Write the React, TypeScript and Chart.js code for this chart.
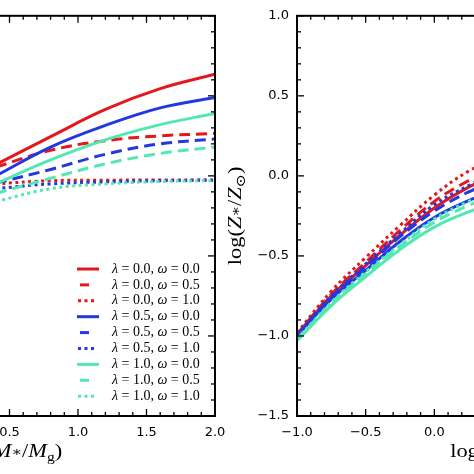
import React, { useEffect, useRef } from "react";
import { Chart, registerables } from "chart.js";
Chart.register(...registerables);

// ---------- data ----------
const seriesLabels = [
  ["0.0", "0.0"], ["0.0", "0.5"], ["0.0", "1.0"],
  ["0.5", "0.0"], ["0.5", "0.5"], ["0.5", "1.0"],
  ["1.0", "0.0"], ["1.0", "0.5"], ["1.0", "1.0"],
];
const seriesColors = [
  "#e3171c", "#e3171c", "#e3171c",
  "#2338e0", "#2338e0", "#2338e0",
  "#52e8b2", "#52e8b2", "#52e8b2",
];
const seriesStyles = ["solid", "dashed", "dotted", "solid", "dashed", "dotted", "solid", "dashed", "dotted"];

const xRange = [-1.0, 2.0];
const yRange = [-1.5, 1.0];

// left panel: log(Z*/Zsun) vs log(M*/Mg)
const leftX = [0.4, 0.8, 1.2, 1.6, 2.0];
const leftL00W00 = [0.07, 0.245, 0.415, 0.545, 0.635];
const leftL00W05 = [0.055, 0.16, 0.22, 0.25, 0.265];
const leftL00W10 = [-0.05, -0.03, -0.027, -0.026, -0.025];
const leftL05W00 = [0.0, 0.18, 0.315, 0.425, 0.49];
const leftL05W05 = [-0.045, 0.04, 0.135, 0.2, 0.23];
const leftL05W10 = [-0.08, -0.05, -0.038, -0.03, -0.027];
const leftL10W00 = [-0.05, 0.1, 0.225, 0.32, 0.39];
const leftL10W05 = [-0.11, -0.015, 0.075, 0.14, 0.18];
const leftL10W10 = [-0.16, -0.08, -0.05, -0.035, -0.03];

// right panel
const rightX = [-1.0, -0.75, -0.5, -0.25, 0.0, 0.25, 0.5];
const rightL00W00 = [-0.99, -0.75, -0.56, -0.37, -0.2, -0.07, 0.03];
const rightL00W05 = [-0.99, -0.74, -0.54, -0.34, -0.16, -0.03, 0.07];
const rightL00W10 = [-0.98, -0.72, -0.51, -0.31, -0.12, 0.03, 0.13];
const rightL05W00 = [-1.0, -0.77, -0.59, -0.41, -0.26, -0.155, -0.07];
const rightL05W05 = [-1.0, -0.76, -0.57, -0.38, -0.22, -0.1, -0.01];
const rightL05W10 = [-0.99, -0.75, -0.55, -0.36, -0.18, -0.06, 0.04];
const rightL10W00 = [-1.03, -0.81, -0.63, -0.46, -0.32, -0.225, -0.15];
const rightL10W05 = [-1.02, -0.8, -0.61, -0.44, -0.29, -0.185, -0.1];
const rightL10W10 = [-1.02, -0.79, -0.6, -0.43, -0.27, -0.16, -0.07];

const leftSeries = [leftL00W00, leftL00W05, leftL00W10, leftL05W00, leftL05W05, leftL05W10, leftL10W00, leftL10W05, leftL10W10];
const rightSeries = [rightL00W00, rightL00W05, rightL00W10, rightL05W00, rightL05W05, rightL05W10, rightL10W00, rightL10W05, rightL10W10];

// ---------- styling helpers ----------
const SERIF = '"Liberation Serif", "DejaVu Serif", serif';
const SANS = '"DejaVu Sans", sans-serif';
const DASHES: Record<string, number[]> = { solid: [], dashed: [11, 6], dotted: [3, 3.5] };

type Seg = { t: string; it?: boolean; sub?: boolean; dy?: number };
const segFont = (s: Seg, size: number) => `${s.it ? "italic " : ""}${s.sub ? size * 0.7 : size}px ${SERIF}`;
function mathWidth(ctx: CanvasRenderingContext2D, segs: Seg[], size: number) {
  let w = 0;
  for (const s of segs) { ctx.font = segFont(s, size); w += ctx.measureText(s.t).width; }
  return w;
}
function drawMath(ctx: CanvasRenderingContext2D, segs: Seg[], size: number, x: number, y: number, sx = 1) {
  ctx.save();
  ctx.translate(x, y);
  ctx.scale(sx, 1);
  let cx = 0;
  for (const s of segs) {
    ctx.font = segFont(s, size);
    const dy = s.dy !== undefined ? s.dy : s.sub ? size * 0.22 : 0;
    ctx.fillText(s.t, cx, dy);
    cx += ctx.measureText(s.t).width;
  }
  ctx.restore();
}

const xTitleSegs: Seg[] = [
  { t: "log(" }, { t: "M", it: true }, { t: "∗", sub: true, dy: -1 }, { t: "/" },
  { t: "M", it: true }, { t: "g", sub: true }, { t: ")" },
];
const yTitleSegs: Seg[] = [
  { t: "log(" }, { t: "Z", it: true }, { t: "∗", sub: true, dy: -1 }, { t: "/" },
  { t: "Z", it: true }, { t: "⊙", sub: true }, { t: ")" },
];
const TITLE_SIZE = 19;
const TITLE_STRETCH = 1.18;

function fmtTick(v: number) {
  const n = Math.round(v * 10) / 10;
  const s = Math.abs(n).toFixed(1);
  return n < 0 ? "\u2212" + s : s;
}

function makeDecor(showLegend: boolean) {
  return {
    id: "decor",
    afterDraw(chart: any) {
      const ctx: CanvasRenderingContext2D = chart.ctx;
      const a = chart.chartArea;
      const xs = chart.scales.x;
      const ys = chart.scales.y;
      ctx.save();
      ctx.strokeStyle = "#000";
      ctx.fillStyle = "#000";
      ctx.lineWidth = 1.3;
      ctx.setLineDash([]);
      const seg = (x1: number, y1: number, x2: number, y2: number) => {
        ctx.beginPath(); ctx.moveTo(x1, y1); ctx.lineTo(x2, y2); ctx.stroke();
      };
      for (let k = Math.round(xs.min * 10); k <= Math.round(xs.max * 10); k++) {
        const px = xs.getPixelForValue(k / 10);
        const len = k % 5 === 0 ? 7 : 4;
        seg(px, a.top, px, a.top + len);
        seg(px, a.bottom, px, a.bottom - len);
      }
      for (let k = Math.round(ys.min * 10); k <= Math.round(ys.max * 10); k++) {
        const py = ys.getPixelForValue(k / 10);
        const len = k % 5 === 0 ? 7 : 4;
        seg(a.left, py, a.left + len, py);
        seg(a.right, py, a.right - len, py);
      }
      ctx.lineWidth = 2;
      ctx.strokeRect(a.left, a.top, a.right - a.left, a.bottom - a.top);

      // axis titles
      ctx.textAlign = "left";
      ctx.textBaseline = "alphabetic";
      const wx = mathWidth(ctx, xTitleSegs, TITLE_SIZE) * TITLE_STRETCH;
      drawMath(ctx, xTitleSegs, TITLE_SIZE, (a.left + a.right) / 2 - wx / 2, a.bottom + 41, TITLE_STRETCH);
      const wy = mathWidth(ctx, yTitleSegs, TITLE_SIZE) * TITLE_STRETCH;
      ctx.save();
      ctx.translate(a.left - 56, (a.top + a.bottom) / 2);
      ctx.rotate(-Math.PI / 2);
      drawMath(ctx, yTitleSegs, TITLE_SIZE, -wy / 2, 0, TITLE_STRETCH);
      ctx.restore();

      if (showLegend) {
        const ds = chart.data.datasets;
        const x0 = a.right - 138;
        const tx = a.right - 103;
        ctx.textBaseline = "middle";
        for (let i = 0; i < ds.length; i++) {
          const y = a.bottom - 147 + i * 15.9;
          const st = seriesStyles[i];
          ctx.strokeStyle = ds[i].borderColor;
          ctx.lineWidth = 3;
          ctx.lineCap = "butt";
          if (st === "solid") { ctx.setLineDash([]); seg(x0, y, x0 + 22, y); }
          else if (st === "dashed") { ctx.setLineDash([]); seg(x0 + 3, y, x0 + 12, y); }
          else { ctx.setLineDash([3, 3.5]); seg(x0 + 1, y, x0 + 19, y); }
          ctx.setLineDash([]);
          ctx.fillStyle = "#000";
          const [l, w] = seriesLabels[i];
          drawMath(ctx, [{ t: "λ", it: true }, { t: " = " + l + ", " }, { t: "ω", it: true }, { t: " = " + w }], 14, tx, y);
        }
      }
      ctx.restore();
    },
  };
}

function Panel(props: { xs: number[]; series: number[][]; left: number; areaWidth: number; legend: boolean }) {
  const ref = useRef<HTMLCanvasElement>(null);
  const width = 70 + props.areaWidth + 30;
  useEffect(() => {
    const datasets = props.series.map((arr, i) => ({
      label: `λ = ${seriesLabels[i][0]}, ω = ${seriesLabels[i][1]}`,
      data: props.xs.map((x, j) => ({ x, y: arr[j] })),
      borderColor: seriesColors[i],
      backgroundColor: seriesColors[i],
      borderDash: DASHES[seriesStyles[i]],
      borderWidth: 3,
      borderCapStyle: "butt" as const,
      pointRadius: 0,
      fill: false,
      tension: 0.4,
      order: 9 - i,
    }));
    const tickFont = { family: SANS, size: 13 };
    const chart = new Chart(ref.current!, {
      type: "line",
      data: { datasets },
      options: {
        responsive: false,
        maintainAspectRatio: false,
        animation: false,
        layout: { padding: { left: 0, top: 14, right: 30, bottom: 0 } },
        plugins: { legend: { display: false }, tooltip: { enabled: false } },
        scales: {
          x: {
            type: "linear", min: xRange[0], max: xRange[1],
            grid: { display: false, drawTicks: false }, border: { display: false },
            ticks: { stepSize: 0.5, font: tickFont, color: "#000", padding: 9, maxRotation: 0, autoSkip: false, callback: (v: any) => fmtTick(Number(v)) },
            afterFit: (s: any) => { s.height = 58; },
          },
          y: {
            type: "linear", min: yRange[0], max: yRange[1],
            grid: { display: false, drawTicks: false }, border: { display: false },
            ticks: { stepSize: 0.5, font: tickFont, color: "#000", padding: 8, autoSkip: false, callback: (v: any) => fmtTick(Number(v)) },
            afterFit: (s: any) => { s.width = 70; },
          },
        },
      },
      plugins: [makeDecor(props.legend)],
    } as any);
    return () => chart.destroy();
  }, []);
  return (
    <canvas
      ref={ref}
      width={width}
      height={474}
      style={{ position: "absolute", left: props.left - 70, top: 0, width, height: 474 }}
    />
  );
}

export default function App() {
  return (
    <div style={{ position: "fixed", left: 0, top: 0, width: 474, height: 474, overflow: "hidden", background: "#fff" }}>
      <Panel xs={leftX} series={leftSeries} left={-196} areaWidth={411} legend={true} />
      <Panel xs={rightX} series={rightSeries} left={297} areaWidth={412} legend={false} />
    </div>
  );
}
